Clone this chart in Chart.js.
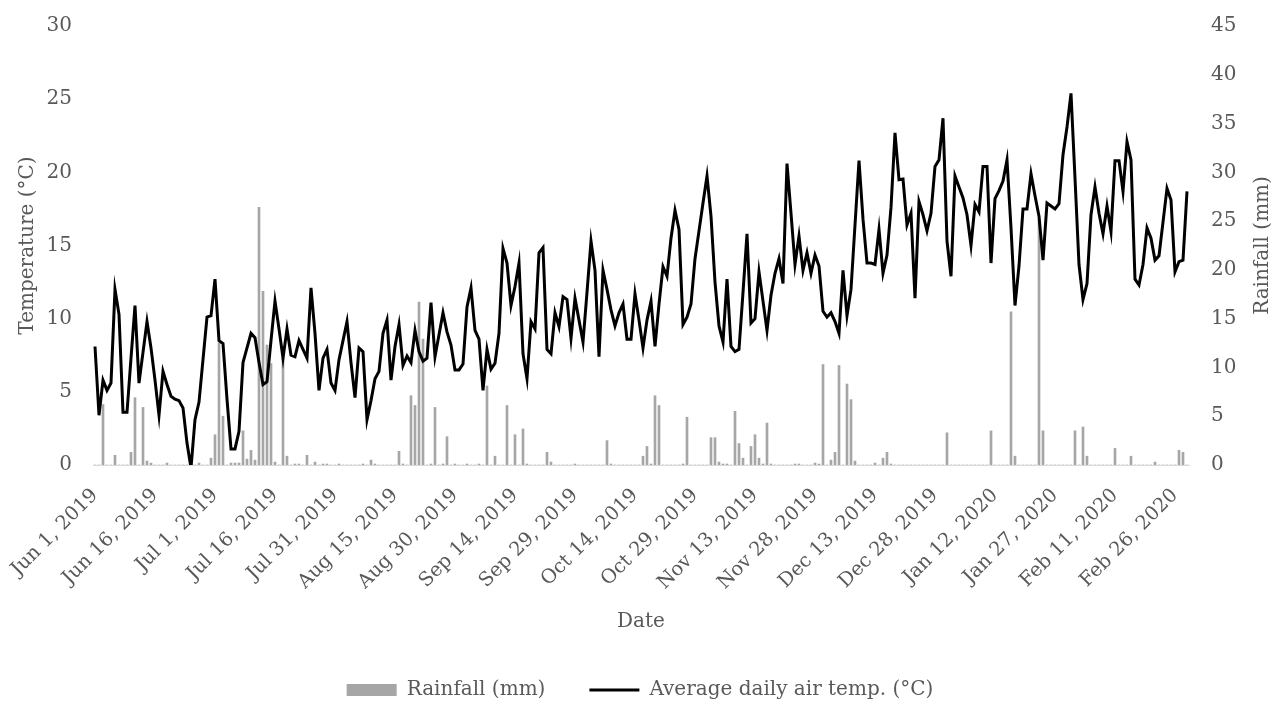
<!DOCTYPE html>
<html>
<head>
<meta charset="utf-8">
<style>
  html, body { margin: 0; padding: 0; background: #fff; }
</style>
<script src="https://cdn.jsdelivr.net/npm/chart.js@4.4.1/dist/chart.umd.min.js"></script>
</head>
<body>
<canvas id="chart" width="1280" height="707"></canvas>
<script>
// daily values, Jun 1 2019 .. Feb 29 2020 (rows of 15 days)
const temperature = [
  8.1, 3.4, 5.8, 5.1, 5.6, 12.0, 10.3, 3.6, 3.6, 7.3, 10.9, 5.6, 7.7, 9.8, 8.0,
  5.8, 3.4, 6.4, 5.5, 4.7, 4.5, 4.4, 3.9, 1.5, -0.2, 3.1, 4.3, 7.2, 10.1, 10.2,
  12.7, 8.5, 8.3, 4.5, 1.1, 1.1, 2.3, 7.0, 8.0, 9.0, 8.7, 7.0, 5.5, 5.7, 8.5,
  11.2, 9.3, 7.3, 9.3, 7.5, 7.4, 8.5, 7.9, 7.3, 12.1, 9.0, 5.1, 7.3, 7.9, 5.6,
  5.1, 7.2, 8.5, 9.8, 7.0, 4.6, 8.0, 7.75, 3.1, 4.4, 5.9, 6.4, 9.0, 9.9, 5.8,
  8.1, 9.6, 6.8, 7.45, 7.0, 9.2, 7.75, 7.1, 7.3, 11.1, 7.4, 8.9, 10.4, 9.1, 8.2,
  6.5, 6.5, 6.9, 10.8, 12.1, 9.2, 8.6, 5.1, 7.9, 6.55, 6.95, 9.0, 14.8, 13.8, 10.9,
  12.2, 13.8, 7.6, 5.9, 9.8, 9.3, 14.5, 14.85, 7.9, 7.6, 10.4, 9.45, 11.5, 11.3, 8.65,
  11.4, 9.9, 8.4, 11.8, 15.3, 13.3, 7.4, 13.3, 12.0, 10.6, 9.5, 10.4, 11.0, 8.6, 8.6,
  11.7, 9.9, 8.0, 9.9, 11.2, 8.1, 11.0, 13.55, 12.9, 15.5, 17.4, 16.1, 9.6, 10.1, 11.0,
  14.1, 16.0, 17.9, 19.75, 17.0, 12.5, 9.5, 8.4, 12.7, 8.1, 7.75, 7.9, 11.8, 15.8, 9.7,
  10.0, 13.2, 11.2, 9.2, 11.6, 13.1, 14.1, 12.4, 20.6, 17.2, 13.7, 15.65, 13.3, 14.5, 13.1,
  14.35, 13.6, 10.5, 10.1, 10.4, 9.8, 9.0, 13.3, 10.2, 12.0, 16.4, 20.8, 16.8, 13.8, 13.8,
  13.7, 16.1, 13.1, 14.35, 17.6, 22.7, 19.5, 19.55, 16.4, 17.2, 11.4, 18.0, 17.1, 16.0, 17.2,
  20.4, 20.85, 23.7, 15.3, 12.9, 19.75, 19.0, 18.25, 17.1, 15.0, 17.8, 17.3, 20.4, 20.4, 13.8,
  18.2, 18.75, 19.4, 20.85, 16.2, 10.9, 13.6, 17.5, 17.5, 19.9, 18.4, 17.0, 14.0, 17.9, 17.7,
  17.5, 17.85, 21.2, 23.1, 25.4, 19.6, 13.7, 11.3, 12.4, 17.1, 19.0, 17.2, 15.8, 17.7, 15.95,
  20.8, 20.8, 18.7, 22.1, 20.85, 12.7, 12.3, 13.7, 16.2, 15.5, 14.0, 14.3, 16.6, 18.9, 18.1,
  13.2, 13.9, 14.0, 18.7,
];

const rainfall = [
  0, 0, 6.2, 0, 0, 1.0, 0, 0, 0, 1.3, 6.9, 0, 5.9, 0.4, 0.2,
  0, 0, 0, 0.2, 0, 0, 0, 0, 0, 0, 0, 0.2, 0, 0, 0.7,
  3.1, 12.5, 5.0, 0, 0.2, 0.2, 0.2, 3.5, 0.6, 1.5, 0.5, 26.4, 17.8, 12.3, 10.4,
  0.3, 0, 11.0, 0.9, 0, 0.1, 0.1, 0, 1.0, 0, 0.3, 0, 0.1, 0.1, 0,
  0, 0.1, 0, 0, 0, 0, 0, 0.1, 0, 0.5, 0.1, 0, 0, 0, 0,
  0, 1.4, 0.1, 0, 7.1, 6.1, 16.7, 12.9, 0, 0.1, 5.9, 0, 0.1, 2.9, 0,
  0.1, 0, 0, 0.1, 0, 0, 0.1, 0, 8.1, 0, 0.9, 0, 0, 6.1, 0,
  3.1, 0, 3.7, 0.1, 0, 0, 0, 0, 1.3, 0.3, 0, 0, 0, 0, 0,
  0.1, 0, 0, 0, 0, 0, 0, 0, 2.5, 0.1, 0, 0, 0, 0, 0,
  0, 0, 0.9, 1.9, 0.1, 7.1, 6.1, 0, 0, 0, 0, 0, 0.1, 4.9, 0,
  0, 0, 0, 0, 2.8, 2.8, 0.3, 0.1, 0.1, 0, 5.5, 2.2, 0.7, 0, 1.9,
  3.1, 0.7, 0.1, 4.3, 0.1, 0, 0, 0, 0, 0, 0.1, 0.1, 0, 0, 0,
  0.2, 0.1, 10.3, 0, 0.5, 1.3, 10.2, 0, 8.3, 6.7, 0.4, 0, 0, 0, 0,
  0.2, 0, 0.7, 1.3, 0.1, 0, 0, 0, 0, 0, 0, 0, 0, 0, 0,
  0, 0, 0, 3.3, 0, 0, 0, 0, 0, 0, 0, 0, 0, 0, 3.5,
  0, 0, 0, 0, 15.7, 0.9, 0, 0, 0, 0, 0, 25.2, 3.5, 0, 0,
  0, 0, 0, 0, 0, 3.5, 0, 3.9, 0.9, 0, 0, 0, 0, 0, 0,
  1.7, 0, 0, 0, 0.9, 0, 0, 0, 0, 0, 0.3, 0, 0, 0, 0,
  0, 1.5, 1.3, 0,
];

const MONTHS = ["Jan", "Feb", "Mar", "Apr", "May", "Jun", "Jul", "Aug", "Sep", "Oct", "Nov", "Dec"];
const dates = temperature.map((_, i) => {
  const d = new Date(2019, 5, 1 + i);
  return `${MONTHS[d.getMonth()]} ${d.getDate()}, ${d.getFullYear()}`;
});
const TICK_STEP = 15; // a date label every 15 days

const tempTicks = [0, 5, 10, 15, 20, 25, 30];
const rainTicks = [0, 5, 10, 15, 20, 25, 30, 35, 40, 45];

const FONT = "'DejaVu Serif', serif";
const TEXT = "#595959";
const RAIN_TITLE = "Rainfall (mm)";

// secondary axis title reads bottom-to-top, like the primary one
const rightTitle = {
  id: "rightTitle",
  afterDraw(chart) {
    const { ctx, chartArea } = chart;
    ctx.save();
    ctx.translate(1263, (chartArea.top + chartArea.bottom) / 2);
    ctx.rotate(-Math.PI / 2);
    ctx.font = `20px ${FONT}`;
    ctx.fillStyle = TEXT;
    ctx.textAlign = "center";
    ctx.textBaseline = "middle";
    ctx.fillText(RAIN_TITLE, 0, 0);
    ctx.restore();
  },
};

// keep the plot box fixed: no extra room for overhanging tick labels
function noPadding(scale) {
  scale.paddingTop = 0;
  scale.paddingBottom = 0;
  scale.paddingLeft = 0;
  scale.paddingRight = 0;
}

const ctx = document.getElementById("chart").getContext("2d");

new Chart(ctx, {
  data: {
    labels: dates,
    datasets: [
      {
        type: "bar",
        label: "Rainfall (mm)",
        data: rainfall,
        yAxisID: "yRain",
        backgroundColor: "#a6a6a6",
        barThickness: 2,
        order: 1,
      },
      {
        type: "line",
        label: "Average daily air temp. (°C)",
        data: temperature,
        yAxisID: "yTemp",
        borderColor: "#000000",
        backgroundColor: "#000000",
        borderWidth: 3,
        pointRadius: 0,
        tension: 0,
        order: 0,
      },
    ],
  },
  plugins: [rightTitle],
  options: {
    responsive: false,
    animation: false,
    devicePixelRatio: 1,
    layout: { padding: { top: 26, left: 0, right: 0, bottom: -3 } },
    plugins: {
      tooltip: { enabled: false },
      legend: {
        position: "bottom",
        labels: {
          usePointStyle: true,
          pointStyleWidth: 50,
          boxHeight: 12,
          padding: 44,
          color: TEXT,
          font: { family: FONT, size: 20 },
          sort: (a, b) => a.datasetIndex - b.datasetIndex,
          generateLabels(chart) {
            const items = Chart.defaults.plugins.legend.labels.generateLabels(chart);
            items.forEach((it) => {
              if (it.datasetIndex === 0) {
                it.pointStyle = "rect";
                it.fillStyle = "#a6a6a6";
                it.strokeStyle = "#a6a6a6";
                it.lineWidth = 0;
              } else {
                it.pointStyle = "line";
                it.strokeStyle = "#000000";
                it.lineWidth = 3;
              }
            });
            return items;
          },
        },
      },
    },
    scales: {
      x: {
        type: "category",
        offset: true,
        grid: { display: false, drawTicks: false },
        border: { display: true, color: "#d9d9d9", width: 1 },
        ticks: {
          autoSkip: false,
          maxRotation: 45,
          minRotation: 45,
          padding: 19,
          color: TEXT,
          font: { family: FONT, size: 19.5 },
          callback(value, index) {
            return index % TICK_STEP === 0 ? this.getLabelForValue(value) : "";
          },
        },
        title: {
          display: true,
          text: "Date",
          color: TEXT,
          font: { family: FONT, size: 20 },
          padding: { top: 0, bottom: 2 },
        },
        afterFit(scale) {
          scale.height = 171;
          noPadding(scale);
        },
      },
      yTemp: {
        position: "left",
        min: 0,
        max: 30,
        grid: { display: false, drawTicks: false },
        border: { display: false },
        afterBuildTicks(scale) { scale.ticks = tempTicks.map((v) => ({ value: v })); },
        ticks: { padding: 21, color: TEXT, font: { family: FONT, size: 20 } },
        title: {
          display: true,
          text: "Temperature (°C)",
          color: TEXT,
          font: { family: FONT, size: 20 },
          padding: { top: 16, bottom: 0 },
        },
        afterFit(scale) {
          scale.width = 93;
          noPadding(scale);
        },
      },
      yRain: {
        position: "right",
        min: 0,
        max: 45,
        grid: { display: false, drawTicks: false },
        border: { display: false },
        afterBuildTicks(scale) { scale.ticks = rainTicks.map((v) => ({ value: v })); },
        ticks: { padding: 22, color: TEXT, font: { family: FONT, size: 20 } },
        title: { display: false },
        afterFit(scale) {
          scale.width = 91;
          noPadding(scale);
        },
      },
    },
  },
});
</script>
</body>
</html>
